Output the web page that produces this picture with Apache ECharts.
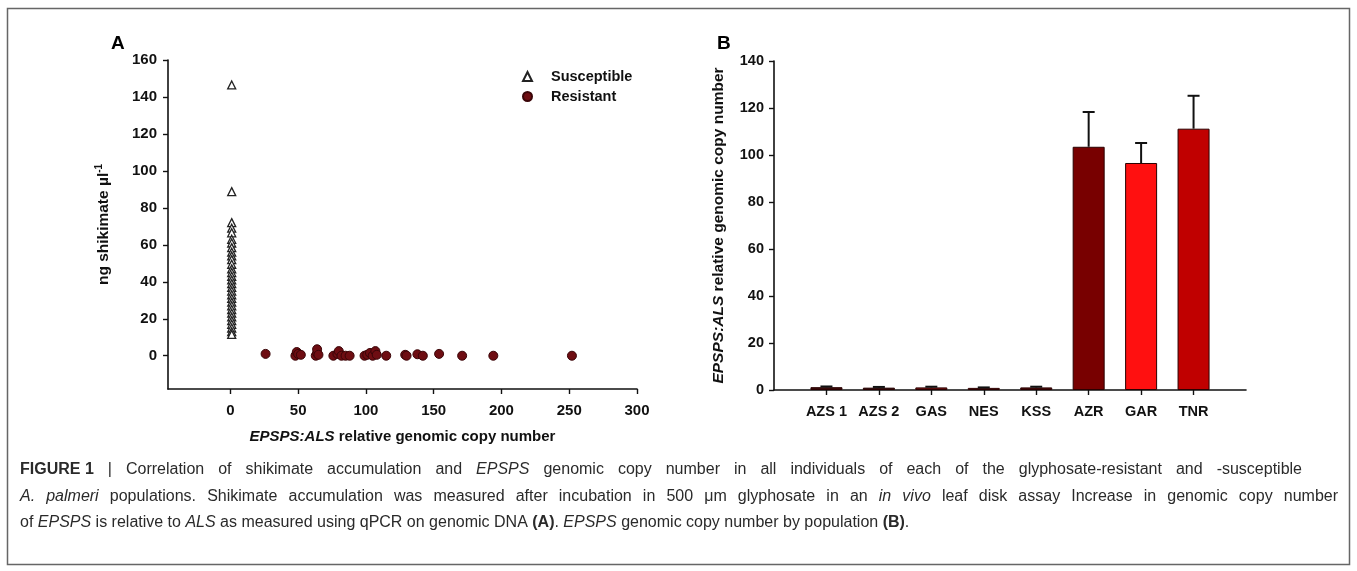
<!DOCTYPE html>
<html>
<head>
<meta charset="utf-8">
<script src="https://cdn.jsdelivr.net/npm/echarts@6/dist/echarts.min.js"></script>
<style>
  html, body { margin: 0; padding: 0; background: #fff; }
  #chart { width: 1357px; height: 571px; }
</style>
</head>
<body>
<div id="chart"></div>
<script>
// Panel A: shikimate accumulation vs EPSPS:ALS copy number per plant
const susceptibleCopy = [1, 1, 1, 1, 1, 1, 1, 1, 1, 1, 1, 1, 1, 1, 1, 1, 1, 1, 1, 1, 1, 1, 1, 1, 1, 1, 1, 1, 1, 1, 1];
const susceptibleShikimate = [146.5, 88.8, 72, 69, 66.5, 63, 61, 58.5, 56, 54, 52, 49.5, 47, 45, 43, 41, 39, 37, 35, 33, 31, 29, 27, 25, 23, 21, 19, 17, 15, 13, 11.5];
const resistantCopy = [26, 48, 49, 50, 52, 63, 64, 64, 65, 76, 79, 80, 82, 85, 88, 99, 101, 103, 105, 107, 108, 115, 129, 130, 138, 142, 154, 171, 194, 252];
const resistantShikimate = [1, 0, 2, 1, 0.5, 0, 1.5, 3.5, 0.5, 0, 1, 2.5, 0, 0, 0, 0, 0.5, 1.5, 0, 2.5, 0.5, 0, 0.5, 0, 0.8, 0, 1, 0, 0, 0];
const shikimateTicks = [0, 20, 40, 60, 80, 100, 120, 140, 160];
const copyTicks = [0, 50, 100, 150, 200, 250, 300];

// Panel B: mean EPSPS:ALS copy number per population (+ SE)
const populations = ['AZS 1', 'AZS 2', 'GAS', 'NES', 'KSS', 'AZR', 'GAR', 'TNR'];
const copyMean = [1.2, 1.0, 1.1, 0.9, 1.1, 103.5, 96.6, 111.2];
const copySE = [0.3, 0.3, 0.3, 0.2, 0.3, 14.8, 8.5, 14.0];
const barColors = ['#3a0a0a', '#1a0505', '#7a1515', '#a83a3a', '#4a0d0d', '#780000', '#ff1010', '#c00000'];

// Figure caption, one string per printed line ({b|..} bold, {i|..} italic)
const captionLines = [
  '{b|FIGURE\u00a01} | Correlation of shikimate accumulation and {i|EPSPS} genomic copy number in all individuals of each of the glyphosate-resistant and -susceptible',
  '{i|A. palmeri} populations. Shikimate accumulation was measured after incubation in 500 μm glyphosate in an {i|in vivo} leaf disk assay Increase in genomic copy number',
  'of {i|EPSPS} is relative to {i|ALS} as measured using qPCR on genomic DNA {b|(A)}. {i|EPSPS} genomic copy number by population {b|(B)}.'
];

const FONT = "'Liberation Sans', Arial, sans-serif";
const CAPTION_FONT = "'Liberation Sans', Arial, sans-serif";
const CAPTION_SIZE = 16;
const CAPTION_COLOR = '#2a2a2a';
const AXIS_COLOR = '#111';

const pair = (xs, ys) => xs.map((x, i) => [x, ys[i]]);

// category axis padded with one empty slot on each side
const bCategories = [''].concat(populations, ['']);

const axisCommon = {
  axisLine: { show: true, onZero: false, lineStyle: { color: AXIS_COLOR, width: 1.6 } },
  axisTick: { show: true, length: 5, lineStyle: { color: AXIS_COLOR, width: 1.4 } },
  splitLine: { show: false },
  axisLabel: { color: '#111', fontFamily: FONT, fontWeight: 'bold', fontSize: 14.5 }
};

// ---- caption layout: words placed individually so lines can be justified
const captionStyles = {
  n: { fontStyle: 'normal', fontWeight: 'normal' },
  b: { fontStyle: 'normal', fontWeight: 'bold' },
  i: { fontStyle: 'italic', fontWeight: 'normal' }
};
const measureCtx = document.createElement('canvas').getContext('2d');
function measure(text, st) {
  const s = captionStyles[st];
  measureCtx.font = s.fontStyle + ' ' + s.fontWeight + ' ' + CAPTION_SIZE + 'px ' + CAPTION_FONT;
  return measureCtx.measureText(text).width;
}
function parseRich(s) {
  const out = [];
  const re = /\{(\w)\|([^}]*)\}/g;
  let last = 0, m;
  while ((m = re.exec(s))) {
    if (m.index > last) out.push({ t: s.slice(last, m.index), st: 'n' });
    out.push({ t: m[2], st: m[1] });
    last = re.lastIndex;
  }
  if (last < s.length) out.push({ t: s.slice(last), st: 'n' });
  return out;
}
function splitWords(segs) {
  const ws = [[]];
  segs.forEach(seg => {
    seg.t.split(' ').forEach((p, k) => {
      if (k > 0) ws.push([]);
      if (p) ws[ws.length - 1].push({ t: p, st: seg.st });
    });
  });
  return ws.filter(w => w.length);
}
const captionRich = {};
Object.keys(captionStyles).forEach(k => {
  captionRich[k] = Object.assign({ fontFamily: CAPTION_FONT, fontSize: CAPTION_SIZE, fill: CAPTION_COLOR }, captionStyles[k]);
});
function captionGraphics(x0, yList, rightList) {
  const els = [];
  captionLines.forEach((line, li) => {
    const words = splitWords(parseRich(line));
    const widths = words.map(w => w.reduce((a, p) => a + measure(p.t, p.st), 0));
    const total = widths.reduce((a, b) => a + b, 0);
    const right = rightList[li];
    const gap = right ? (right - x0 - total) / (words.length - 1) : measure(' ', 'n');
    let x = x0;
    words.forEach((w, wi) => {
      els.push({
        type: 'text', x: x, y: yList[li], silent: true,
        style: {
          text: w.map(p => '{' + p.st + '|' + p.t + '}').join(''),
          fontFamily: CAPTION_FONT, fontSize: CAPTION_SIZE, fill: CAPTION_COLOR,
          verticalAlign: 'middle', rich: captionRich
        }
      });
      x += widths[wi] + gap;
    });
  });
  return els;
}

const chart = echarts.init(document.getElementById('chart'), null, { renderer: 'canvas' });

const option = {
  backgroundColor: '#fff',
  animation: false,
  textStyle: { fontFamily: FONT },
  title: [
    { text: 'A', left: 106, top: 29, textStyle: { fontFamily: FONT, fontSize: 19, fontWeight: 'bold', color: '#000' } },
    { text: 'B', left: 712, top: 29, textStyle: { fontFamily: FONT, fontSize: 19, fontWeight: 'bold', color: '#000' } }
  ],
  legend: {
    data: ['Susceptible', 'Resistant'],
    orient: 'vertical',
    left: 517,
    top: 64,
    itemWidth: 9,
    itemHeight: 9,
    itemGap: 5,
    textStyle: { fontFamily: FONT, fontWeight: 'bold', fontSize: 14.5, color: '#111', padding: [0, 0, 0, 14] }
  },
  grid: [
    { left: 168, top: 60, width: 469, height: 329, containLabel: false },
    { left: 774, top: 61, width: 472, height: 329, containLabel: false }
  ],
  xAxis: [
    Object.assign({}, axisCommon, {
      gridIndex: 0,
      type: 'value',
      min: -46,
      max: 300,
      axisTick: Object.assign({}, axisCommon.axisTick, { customValues: copyTicks }),
      axisLabel: Object.assign({}, axisCommon.axisLabel, { customValues: copyTicks, margin: 14, fontSize: 15 }),
      name: '{i|EPSPS:ALS} relative genomic copy number',
      nameLocation: 'middle',
      nameGap: 40,
      nameTextStyle: {
        fontFamily: FONT, fontWeight: 'bold', fontSize: 15, color: '#111',
        rich: { i: { fontFamily: FONT, fontWeight: 'bold', fontStyle: 'italic', fontSize: 15, color: '#111' } }
      }
    }),
    Object.assign({}, axisCommon, {
      gridIndex: 1,
      type: 'category',
      data: bCategories,
      boundaryGap: false,
      axisTick: Object.assign({}, axisCommon.axisTick, { interval: (i) => i > 0 && i < bCategories.length - 1 }),
      axisLabel: Object.assign({}, axisCommon.axisLabel, { interval: 0, margin: 14 })
    })
  ],
  yAxis: [
    Object.assign({}, axisCommon, {
      gridIndex: 0,
      type: 'value',
      min: -18,
      max: 160,
      axisTick: Object.assign({}, axisCommon.axisTick, { customValues: shikimateTicks }),
      axisLabel: Object.assign({}, axisCommon.axisLabel, { customValues: shikimateTicks, margin: 11, fontSize: 15 }),
      name: '{n|ng shikimate µl}{s|-1}',
      nameLocation: 'middle',
      nameRotate: 90,
      nameGap: 55,
      nameTextStyle: {
        fontFamily: FONT, fontWeight: 'bold', fontSize: 15.5, color: '#111',
        rich: {
          n: { fontFamily: FONT, fontWeight: 'bold', fontSize: 15.5, color: '#111' },
          s: { fontFamily: FONT, fontWeight: 'bold', fontSize: 10, color: '#111', padding: [0, 0, 9, 0] }
        }
      }
    }),
    Object.assign({}, axisCommon, {
      gridIndex: 1,
      type: 'value',
      min: 0,
      max: 140,
      interval: 20,
      axisLabel: Object.assign({}, axisCommon.axisLabel, { margin: 10 }),
      name: '{i|EPSPS:ALS} relative genomic copy number',
      nameLocation: 'middle',
      nameRotate: 90,
      nameGap: 47,
      nameTextStyle: {
        fontFamily: FONT, fontWeight: 'bold', fontSize: 15.5, color: '#111',
        rich: { i: { fontFamily: FONT, fontWeight: 'bold', fontStyle: 'italic', fontSize: 15.5, color: '#111' } }
      }
    })
  ],
  series: [
    {
      name: 'Susceptible',
      type: 'scatter',
      xAxisIndex: 0, yAxisIndex: 0,
      symbol: 'triangle',
      symbolSize: 8,
      itemStyle: { color: '#fff', borderColor: '#222', borderWidth: 1.3, opacity: 1 },
      data: pair(susceptibleCopy, susceptibleShikimate),
      z: 3
    },
    {
      name: 'Resistant',
      type: 'scatter',
      xAxisIndex: 0, yAxisIndex: 0,
      symbol: 'circle',
      symbolSize: 9,
      itemStyle: { color: '#6e0d12', borderColor: '#3a0508', borderWidth: 1, opacity: 1 },
      data: pair(resistantCopy, resistantShikimate),
      z: 3
    },
    {
      type: 'bar',
      xAxisIndex: 1, yAxisIndex: 1,
      barWidth: 32,
      data: [null].concat(copyMean.map((v, i) => ({
        value: v,
        itemStyle: { color: barColors[i], borderColor: '#2a0000', borderWidth: 1 }
      })), [null])
    },
    {
      type: 'custom',
      xAxisIndex: 1, yAxisIndex: 1,
      data: populations.map((p, i) => [i + 1, copyMean[i], copyMean[i] + copySE[i]]),
      renderItem: function (params, api) {
        const base = api.coord([api.value(0), api.value(1)]);
        const top = api.coord([api.value(0), api.value(2)]);
        const half = 6;
        const style = { stroke: '#111', lineWidth: 2, fill: null };
        return {
          type: 'group',
          children: [
            { type: 'line', shape: { x1: base[0], y1: base[1], x2: top[0], y2: top[1] }, style: style },
            { type: 'line', shape: { x1: top[0] - half, y1: top[1], x2: top[0] + half, y2: top[1] }, style: style }
          ]
        };
      },
      z: 4
    }
  ],
  graphic: [
    {
      type: 'rect',
      shape: { x: 7.5, y: 8.5, width: 1342, height: 556 },
      style: { fill: null, stroke: '#666', lineWidth: 1.5 },
      silent: true
    }
  ].concat(captionGraphics(20, [470, 497, 523], [1302, 1338, 0]))
};

chart.setOption(option);
</script>
</body>
</html>
